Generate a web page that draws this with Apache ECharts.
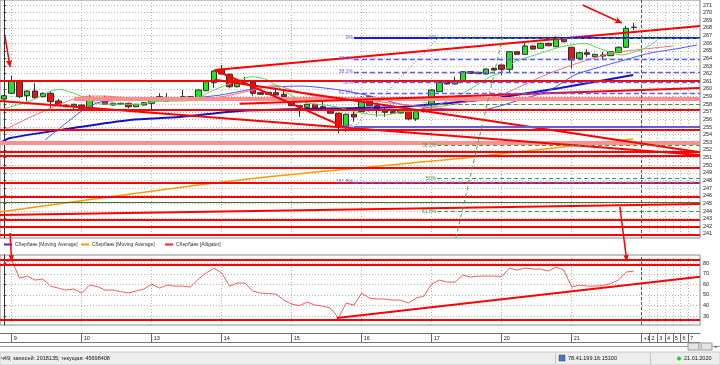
<!DOCTYPE html>
<html>
<head>
<meta charset="utf-8">
<title>Сбербанк</title>
<script src="https://cdn.jsdelivr.net/npm/echarts@6.0.0/dist/echarts.min.js"></script>
<style>
html,body{margin:0;padding:0;background:#fff;overflow:hidden}
#chart{width:720px;height:365px}
</style>
</head>
<body>
<div id="chart"></div>
<script>
// ---------------- data ----------------
const dayTicks     = [1, 10, 19, 28, 37, 46, 55, 64, 73];
const dayLabels    = ['9', '10', '13', '14', '15', '16', '17', '20', '21'];
const futureTicks  = [82, 83, 84, 85, 86, 87, 88];
const futureLabels = ['+1', '2', '3', '4', '5', '6', '7'];
const priceTicks   = [241,242,243,244,245,246,247,248,249,250,251,252,253,254,255,256,257,258,259,260,261,262,263,264,265,266,267,268,269,270,271];
const oscTicks     = [30, 40, 50, 60, 70, 80];

const open = [258.68,259.43,261.08,259.11,259.73,258.98,259.43,258.42,257.89,257.76,
257.89,257.46,258.68,258.77,257.89,257.99,258.12,257.67,257.89,258.12,
258.98,258.42,258.77,258.98,258.98,258.64,259.77,260.82,262.57,261.92,
260.29,260.95,260.87,259.51,259.30,259.51,259.30,258.42,257.80,257.59,
257.99,257.67,257.33,256.81,255.05,256.68,257.02,258.98,257.80,257.15,
257.02,256.85,257.11,256.06,257.02,258.00,259.64,260.87,260.65,260.95,
262.26,262.00,261.96,262.70,263.14,262.57,264.88,264.54,265.63,265.33,
265.98,265.53,266.64,265.46,264.01,264.75,264.22,264.45,264.36,264.80,
265.46,268.05];
const close = [259.11,261.08,258.98,259.73,258.85,259.43,258.33,257.99,257.67,257.99,
257.46,258.85,258.85,257.99,258.12,258.12,257.67,257.99,258.20,258.85,
258.55,258.77,258.60,258.77,258.77,259.86,260.95,262.35,261.96,260.29,
260.82,260.93,259.43,259.30,259.56,259.20,258.98,257.80,257.67,257.99,
257.54,257.24,256.81,255.05,256.68,256.32,258.77,257.80,257.24,256.94,
256.81,257.10,256.06,257.02,257.37,259.86,260.87,260.65,261.04,262.26,
262.05,262.18,262.61,262.48,262.57,264.88,264.54,265.63,265.23,265.98,
265.67,266.77,266.19,263.79,264.75,264.54,264.54,264.32,264.88,265.46,
267.95,268.10];
const low = [258.60,259.33,258.81,258.42,258.75,258.90,257.54,257.80,257.60,257.11,
257.24,257.40,258.60,257.95,257.80,257.90,257.46,257.60,257.80,257.24,
258.50,258.35,258.50,258.70,258.70,258.55,259.70,260.16,261.90,260.08,
260.20,260.50,259.11,259.25,259.25,259.15,258.95,257.75,256.36,257.50,
257.50,257.20,256.75,254.18,254.39,255.71,256.95,257.75,256.36,256.36,
256.75,256.80,255.90,255.80,256.95,257.40,259.60,260.60,260.60,260.90,
262.00,261.95,261.90,262.40,261.83,262.20,264.50,264.50,265.20,265.30,
265.60,265.50,266.10,262.70,263.90,264.20,264.15,263.90,264.30,264.75,
265.40,267.72];
const high = [259.20,261.73,261.20,259.80,260.74,259.50,259.73,258.68,257.95,258.05,
257.95,259.20,258.90,259.11,258.20,258.20,258.20,258.05,258.25,258.90,
259.43,259.46,258.85,259.86,259.05,259.95,261.10,262.45,263.14,262.00,
260.90,261.60,260.95,259.55,259.60,260.08,259.99,258.50,257.85,258.05,
258.05,258.33,257.40,256.90,256.75,257.02,259.07,259.05,257.85,257.67,
257.10,257.15,257.15,257.10,257.45,259.95,260.95,260.95,261.60,262.35,
262.35,262.25,262.70,262.80,263.20,264.95,264.95,265.98,265.70,266.05,
266.05,266.85,266.80,265.50,264.85,265.20,264.60,264.88,264.95,265.55,
268.25,268.68];

// moving averages / alligator: [bar index, price]
const maBlue = [[-0.5,252.91],[0.8,253.57],[8.9,254.88],[16.2,255.93],[22.6,256.32],[30.3,257.11],[38.1,257.37],[45.1,257.50],[50.9,257.63],[57.3,258.16],[61.2,258.55],[63.8,258.88],[71.5,260.12],[76.6,261.04],[80.9,261.83]];
const maOrange = [[-0.5,243.87],[30.3,248.06],[60.3,251.08],[80.9,253.44]];
const jaw = [[5.3,253.31],[7.2,254.88],[8.5,255.93],[10.2,257.24],[12.4,258.29],[17.5,258.55],[22.6,258.68],[27.8,259.20],[32.9,260.12],[38.1,260.38],[43.2,259.86],[47.1,259.07],[50.9,258.03],[55.2,257.50],[61.2,257.24],[66.3,258.55],[70.2,259.86],[73.4,261.83],[76.6,262.87],[79.8,263.79],[83.1,264.71],[86.3,265.23],[89.1,265.76]];
const teeth = [[-0.5,254.36],[0.8,255.01],[4.6,256.85],[9.8,258.94],[12.4,259.07],[16.6,258.81],[22.0,258.55],[27.8,258.94],[33.2,260.12],[34.8,260.51],[37.0,259.86],[40.0,259.07],[45.1,258.81],[49.6,258.16],[55.2,257.63],[58.6,258.16],[63.8,259.20],[69.6,261.83],[73.8,263.40],[78.2,264.71],[81.1,265.10],[86.0,265.63]];
const lips = [[-0.5,257.24],[3.7,258.55],[5.9,259.66],[7.2,259.93],[8.9,259.47],[11.1,258.55],[12.4,258.03],[17.5,257.99],[19.2,258.33],[22.6,258.42],[24.6,258.55],[26.2,259.47],[28.0,260.29],[29.7,260.95],[31.9,261.60],[33.9,261.17],[36.1,259.64],[39.1,258.16],[41.3,257.89],[43.5,257.50],[45.1,257.02],[48.0,256.58],[49.2,256.58],[50.9,257.02],[53.1,257.11],[54.8,257.46],[56.4,258.16],[58.6,259.20],[60.8,260.51],[62.5,261.60],[63.8,262.09],[65.7,263.57],[68.3,264.45],[71.7,265.53],[74.7,265.98],[76.0,265.53],[77.7,264.88],[79.5,264.45],[81.1,264.88],[82.4,265.33],[84.0,266.41]];

// oscillator (lower panel), one value per bar
const rsi = [80.3,83.1,66.0,67.9,64.1,65.1,58.4,56.5,54.6,55.6,
51.8,59.4,58.0,54.6,54.6,53.2,51.8,53.7,55.6,60.3,
56.5,59.4,58.4,58.4,57.5,65.1,70.8,75.5,70.8,58.4,
61.3,61.3,53.7,51.8,51.3,50.8,45.1,41.3,39.9,43.2,
40.4,39.4,37.5,28.1,42.3,40.4,51.8,47.0,46.1,46.1,
45.1,45.1,42.3,47.0,48.9,60.3,64.1,62.2,62.2,68.9,
67.0,67.9,67.9,67.9,67.5,75.5,73.6,75.5,74.6,74.6,
72.7,76.5,73.6,57.5,59.4,58.4,58.4,58.9,60.8,64.1,
71.7,72.7];

// hand-drawn levels (prices) and trend lines ([bar, price] pairs)
const redLevels  = [261.05, 257.22, 254.68, 251.77, 251.20, 249.73, 247.71, 245.88, 242.90, 241.98, 240.93];
const pinkLevels = [[9, 258.75], [-0.5, 252.91]];
const greenLevel = 245.09;
const trendLines = [
  [[27.1, 262.48], [89.5, 268.25]],
  [[30.3, 258.05], [89.5, 260.12]],
  [[27.1, 262.48], [43.8, 255.00]],
  [[27.1, 261.20], [89.5, 251.70]],
  [[-0.5, 258.42], [89.5, 251.34]],
  [[-0.5, 243.48], [89.5, 244.92]]
];
const fibRatios = [0, 0.236, 0.382, 0.5, 0.618, 1, 1.618];
const fibLabels = ['0%', '23.6%', '38.2%', '50%', '61.8%', '100%', '161.8%'];
const fibBlueFrom = [45, 255.00];
const fibBlueTo   = [55.8, 266.67];
const fibGreenFrom = [55.7, 229.90];
const fibGreenTo   = [64.1, 266.67];
const fibGreenCount = 5;

const oscLevels = [83.6, 78.9, 26.2];
const oscTrend  = [[42.8, 28.1], [89.5, 67.3]];
const nowBar = 82;

const arrowsMain = [ [[0.14, 266.94], [0.79, 262.87]], [[74.4, 271.0], [79.45, 268.64]] ];
const arrowsCross = [ [[79.2, 244.53], [80.1, 81.2]], [[0.8, 241.12], [1.0, 81.2]] ];

const legendNames  = ['Сбербанк [Moving Average]', 'Сбербанк [Moving Average]', 'Сбербанк [Alligator]'];
const statusLeft   = 'ч49; записей: 2018135; текущая: 45698408';
const statusServer = '78.41.199.16:15100';
const statusDate   = '21.01.2020';

// ---------------- chart ----------------
const chart = echarts.init(document.getElementById('chart'), null, {width: 720, height: 365, renderer: 'canvas'});
const FONT = 'Liberation Sans';
const X_MIN = -0.5, X_MAX = 89.5;
const P_MIN = 240.46, P_MAX = 271.66;
const O_MIN = 21.5, O_MAX = 87.9;
const RED = '#ff0000', PINK = '#ff8f8f', FIBBLUE = '#5b5bff', GREEN = '#3c9c3c';

const xTickVals = dayTicks.concat(futureTicks);
function xLabelOf(v) {
  let k = dayTicks.indexOf(v);
  if (k >= 0) return dayLabels[k];
  k = futureTicks.indexOf(v);
  return k >= 0 ? futureLabels[k] : '';
}
const gridLine = {show: true, lineStyle: {color: '#b5b5b5', type: [1, 2], width: 1}};

const candleData = open.map((o, i) => [i, o, close[i], low[i], high[i]]);
const rsiData = rsi.map((v, i) => [i, v]);

function seg(a, b, style, extra) {
  return [Object.assign({coord: a, lineStyle: style}, extra || {}), {coord: b, lineStyle: style}];
}

// main panel objects
const mainLines = [];
redLevels.forEach(v => mainLines.push({yAxis: v, lineStyle: {color: RED, width: 2, type: 'solid'}}));
pinkLevels.forEach(p => mainLines.push(seg(p, [X_MAX, p[1]], {color: PINK, width: 4, type: 'solid'})));
mainLines.push({yAxis: greenLevel, lineStyle: {color: '#4f6f2f', width: 1, type: 'solid'}});
trendLines.forEach(t => mainLines.push(seg(t[0], t[1], {color: RED, width: 2, type: 'solid'})));

// Fibonacci (blue)
const bRange = fibBlueTo[1] - fibBlueFrom[1];
fibRatios.forEach((r, k) => {
  const v = fibBlueTo[1] - r * bRange;
  let st;
  if (r === 0) st = {color: '#1515ff', width: 2, type: 'solid'};
  else if (r === 1) st = {color: '#6a5acd', width: 2, type: 'solid'};
  else st = {color: FIBBLUE, width: 1.3, type: [5, 3]};
  mainLines.push(seg([fibBlueFrom[0], v], [X_MAX, v], st,
    {label: {show: true, position: 'start', formatter: fibLabels[k], color: FIBBLUE, fontSize: 5, distance: 1, fontFamily: FONT}}));
});
mainLines.push(seg(fibBlueFrom, fibBlueTo, {color: FIBBLUE, width: 1, type: [1, 2]}));

// Fibonacci (green)
const gRange = fibGreenTo[1] - fibGreenFrom[1];
for (let k = 0; k < fibGreenCount; k++) {
  const v = fibGreenTo[1] - fibRatios[k] * gRange;
  mainLines.push(seg([fibGreenFrom[0], v], [X_MAX, v], {color: GREEN, width: 1, type: [4, 3]},
    {label: {show: true, position: 'start', formatter: fibLabels[k], color: GREEN, fontSize: 5, distance: 1, fontFamily: FONT}}));
}
(function () {
  const t = (P_MIN - fibGreenFrom[1]) / (fibGreenTo[1] - fibGreenFrom[1]);
  const xs = fibGreenFrom[0] + t * (fibGreenTo[0] - fibGreenFrom[0]);
  mainLines.push(seg([xs, P_MIN], fibGreenTo, {color: '#44aa44', width: 1, type: [4, 3]}));
})();

mainLines.push({xAxis: nowBar, lineStyle: {color: '#555', width: 1, type: [3, 2]}});
arrowsMain.forEach(a => mainLines.push([
  {coord: a[0], symbol: 'none', lineStyle: {color: RED, width: 1.5, type: 'solid'}},
  {coord: a[1], symbol: 'arrow', symbolSize: [5, 7], lineStyle: {color: RED, width: 1.5, type: 'solid'}, itemStyle: {color: RED}}
]));
const lastClose = close[close.length - 1];
mainLines.push({yAxis: lastClose, lineStyle: {opacity: 0},
  label: {show: true, position: 'end', distance: 1, formatter: lastClose.toFixed(2), color: '#ff0000', fontSize: 5,
    backgroundColor: '#fff', borderColor: '#ff0000', borderWidth: 1, padding: [1, 1, 0, 1], fontFamily: FONT}});

// oscillator objects
const oscLines = [];
oscLevels.forEach(v => oscLines.push({yAxis: v, lineStyle: {color: RED, width: 2, type: 'solid'}}));
oscLines.push(seg(oscTrend[0], oscTrend[1], {color: RED, width: 2, type: 'solid'}));
oscLines.push({xAxis: nowBar, lineStyle: {color: '#555', width: 1, type: [3, 2]}});

const mk = data => ({silent: true, symbol: ['none', 'none'], label: {show: false}, animation: false, emphasis: {disabled: true}, data: data});

function lineSeries(name, data, color, width, z) {
  return {name, type: 'line', xAxisIndex: 0, yAxisIndex: 0, data, showSymbol: false, symbol: 'none',
    smooth: 0.25, lineStyle: {color, width}, z, silent: true, animation: false};
}

const option = {
  animation: false,
  backgroundColor: '#fff',
  textStyle: {fontFamily: FONT},
  grid: [
    {left: 0, top: 0, width: 700, height: 238, show: true, borderColor: '#8a8a8a', borderWidth: 1, backgroundColor: '#fff', outerBoundsMode: 'none'},
    {left: 0, top: 255, width: 700, height: 70, show: true, borderColor: '#8a8a8a', borderWidth: 1, backgroundColor: '#fff', outerBoundsMode: 'none'}
  ],
  xAxis: [
    {type: 'value', gridIndex: 0, min: X_MIN, max: X_MAX,
      axisLine: {show: false}, axisTick: {show: false, customValues: xTickVals},
      axisLabel: {show: false, customValues: xTickVals}, splitLine: gridLine},
    {type: 'value', gridIndex: 1, min: X_MIN, max: X_MAX, position: 'bottom', offset: 8,
      axisLine: {show: true, onZero: false, lineStyle: {color: '#6a6a6a'}},
      axisTick: {show: true, inside: false, length: 9, customValues: xTickVals, lineStyle: {color: '#6a6a6a'}},
      axisLabel: {show: true, customValues: xTickVals, formatter: xLabelOf, align: 'left', margin: 2,
        padding: [0, 0, 0, 2], fontSize: 5.5, color: '#222', fontFamily: FONT},
      splitLine: gridLine}
  ],
  yAxis: [
    {type: 'value', gridIndex: 0, position: 'right', min: P_MIN, max: P_MAX,
      axisLine: {show: true, lineStyle: {color: '#333'}},
      axisTick: {show: true, length: 2, customValues: priceTicks, lineStyle: {color: '#333'}},
      axisLabel: {customValues: priceTicks, fontSize: 5.5, margin: 3, color: '#222', fontFamily: FONT},
      splitLine: gridLine},
    {type: 'value', gridIndex: 1, position: 'right', min: O_MIN, max: O_MAX,
      axisLine: {show: true, lineStyle: {color: '#333'}},
      axisTick: {show: true, length: 2, customValues: oscTicks, lineStyle: {color: '#333'}},
      axisLabel: {customValues: oscTicks, fontSize: 5.5, margin: 3, color: '#222', fontFamily: FONT},
      splitLine: gridLine}
  ],
  series: [
    {name: 'levels', type: 'line', xAxisIndex: 0, yAxisIndex: 0, data: [], z: 2, silent: true, markLine: mk(mainLines)},
    {name: 'Сбербанк', type: 'candlestick', xAxisIndex: 0, yAxisIndex: 0, data: candleData,
      encode: {x: 0, y: [1, 2, 3, 4]}, barWidth: 6, z: 3, silent: true,
      itemStyle: {color: '#1fe61f', color0: '#f01010', borderColor: '#2e2e2e', borderColor0: '#2e2e2e', borderWidth: 1}},
    lineSeries('MA1', maBlue, '#1212c8', 2, 4),
    lineSeries('MA2', maOrange, '#ff9a00', 1.5, 4),
    lineSeries('Jaw', jaw, '#4f4fff', 1, 4),
    lineSeries('Teeth', teeth, '#ff6e6e', 1, 4),
    lineSeries('Lips', lips, '#5cd65c', 1, 4),
    {name: 'osc', type: 'line', xAxisIndex: 1, yAxisIndex: 1, data: rsiData, showSymbol: false, symbol: 'none',
      lineStyle: {color: '#ff5a5a', width: 1}, z: 4, silent: true, markLine: mk(oscLines)}
  ]
};
chart.setOption(option);

// ---------------- decorations ----------------
const g = [];
const legendColors = ['#2a2aff', '#ff9a00', '#ff2020'];
const legendX = [4, 81, 165];
legendNames.forEach((n, k) => {
  g.push({type: 'line', shape: {x1: legendX[k], y1: 244.5, x2: legendX[k] + 8, y2: 244.5}, style: {stroke: legendColors[k], lineWidth: 2}, z: 10});
  g.push({type: 'text', x: legendX[k] + 11, y: 244.5, style: {text: n, fill: '#333', fontSize: 5, fontFamily: FONT, verticalAlign: 'middle'}, z: 10});
});
g.push({type: 'line', shape: {x1: 0, y1: 342.5, x2: 700, y2: 342.5}, style: {stroke: '#777', lineWidth: 1}, z: 10});
g.push({type: 'line', shape: {x1: 0, y1: 346.5, x2: 720, y2: 346.5}, style: {stroke: '#9a9a9a', lineWidth: 1}, z: 10});
g.push({type: 'rect', shape: {x: 688, y: 343, width: 24, height: 7}, style: {fill: '#e4e4e4', stroke: '#999', lineWidth: 1}, z: 11});
g.push({type: 'text', x: 700, y: 346.5, style: {text: '|||', fill: '#777', fontSize: 5, align: 'center', verticalAlign: 'middle', fontFamily: FONT}, z: 12});
g.push({type: 'text', x: 716, y: 346.5, style: {text: '▸', fill: '#555', fontSize: 5, align: 'center', verticalAlign: 'middle', fontFamily: FONT}, z: 12});
g.push({type: 'rect', shape: {x: 0, y: 352, width: 720, height: 13}, style: {fill: '#ededed', stroke: '#c8c8c8', lineWidth: 1}, z: 10});
g.push({type: 'text', x: 1, y: 358.5, style: {text: statusLeft, fill: '#111', fontSize: 5.5, verticalAlign: 'middle', fontFamily: FONT}, z: 11});
g.push({type: 'line', shape: {x1: 555.5, y1: 353, x2: 555.5, y2: 364}, style: {stroke: '#c4c4c4', lineWidth: 1}, z: 11});
g.push({type: 'rect', shape: {x: 559, y: 355, width: 6, height: 6}, style: {fill: '#4a78b8', stroke: '#26466e', lineWidth: 0.5}, z: 11});
g.push({type: 'text', x: 568, y: 358.5, style: {text: statusServer, fill: '#111', fontSize: 5.5, verticalAlign: 'middle', fontFamily: FONT}, z: 11});
g.push({type: 'line', shape: {x1: 650.5, y1: 353, x2: 650.5, y2: 364}, style: {stroke: '#c4c4c4', lineWidth: 1}, z: 11});
g.push({type: 'circle', shape: {cx: 679, cy: 358.5, r: 2}, style: {fill: '#22cc22'}, z: 11});
g.push({type: 'text', x: 684, y: 358.5, style: {text: statusDate, fill: '#111', fontSize: 5.5, verticalAlign: 'middle', fontFamily: FONT}, z: 11});

arrowsCross.forEach(a => {
  const p1 = chart.convertToPixel({gridIndex: 0}, a[0]);
  const p2 = chart.convertToPixel({gridIndex: 1}, a[1]);
  const ang = Math.atan2(p2[1] - p1[1], p2[0] - p1[0]);
  const L = 7, W = 2.6;
  const bx = p2[0] - L * Math.cos(ang), by = p2[1] - L * Math.sin(ang);
  g.push({type: 'line', shape: {x1: p1[0], y1: p1[1], x2: bx, y2: by}, style: {stroke: RED, lineWidth: 1.5}, z: 20});
  g.push({type: 'polygon', shape: {points: [[p2[0], p2[1]],
      [bx + W * Math.sin(ang), by - W * Math.cos(ang)], [bx - W * Math.sin(ang), by + W * Math.cos(ang)]]},
    style: {fill: RED}, z: 20});
});
chart.setOption({graphic: g});
</script>
</body>
</html>
